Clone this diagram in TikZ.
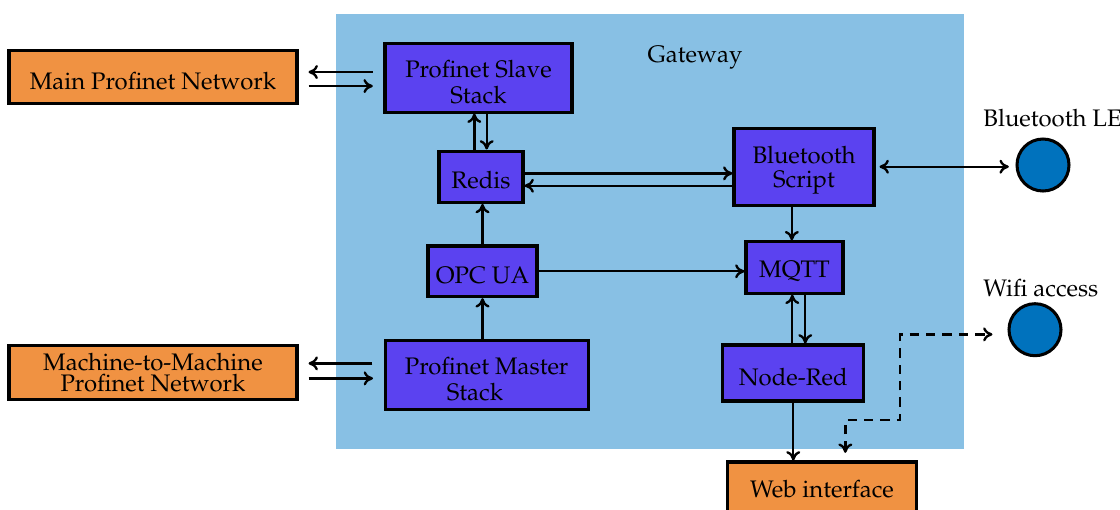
\documentclass[tikz,border=0pt]{standalone}
\usepackage[T1]{fontenc}
\usepackage{mathpazo}
\usepackage{xcolor}
\usepackage{tikz}
\usetikzlibrary{arrows.meta}
\definecolor{gatewayblue}{RGB}{136,192,228}
\definecolor{blockpurple}{RGB}{91,66,240}
\definecolor{netorange}{RGB}{240,146,66}
\definecolor{deviceblue}{RGB}{0,114,189}
\tikzset{
  raised/.style={
    execute at begin node={\rule{0pt}{#1}}
  },
  block/.style={
    draw,
    rectangle,
    fill=blockpurple,
    line width=1.3pt,
    align=center,
    inner sep=1pt,
    raised=10.5pt
  },
  network/.style={
    draw,
    rectangle,
    fill=netorange,
    line width=1.3pt,
    align=center,
    inner sep=1pt
  },
  device/.style={
    draw,
    circle,
    fill=deviceblue,
    line width=1.3pt,
    minimum size=0.78cm,
    inner sep=0pt
  },
  link/.style={
    -{To[length=4pt,width=6pt]},
    line width=1pt
  },
  twoway/.style={
    {To[length=4pt,width=6pt]}-{To[length=4pt,width=6pt]},
    line width=1pt
  }
}

\begin{document}
\begin{tikzpicture}[x=0.015cm, y=-0.015cm, font=\fontsize{10.2}{11.4}\selectfont]
  \useasboundingbox (0,0) rectangle (1120,509);
  \fill[gatewayblue] (336,14) rectangle (964,449);
  \node (gwlabel) at (695,58) {Gateway};

  \node[network, raised=11.5pt, minimum width=4.32cm, minimum height=0.8cm] (main) at (153,76.7) {Main Profinet Network};
  \node[network, minimum width=4.32cm, minimum height=0.82cm] (m2m) at (153,372.5) {Machine-to-Machine\\[-2.4pt]Profinet Network};
  \node[network, raised=8.2pt, minimum width=2.835cm, minimum height=0.78cm] (web) at (822,488) {Web interface};

  \node[block, raised=22.5pt, minimum width=2.805cm, minimum height=1.03cm] (slave) at (478.5,77.7) {Profinet Slave\\Stack};
  \node[block, minimum width=1.26cm, minimum height=0.77cm] (redis) at (481,176.7) {Redis};
  \node[block, raised=20.5pt, minimum width=2.1cm, minimum height=1.15cm] (bt) at (804,166.7) {Bluetooth\\[-1.4pt]Script};
  \node[block, minimum width=1.635cm, minimum height=0.76cm] (opc) at (482.5,271.3) {OPC UA};
  \node[block, minimum width=1.455cm, minimum height=0.77cm] (mqtt) at (794.5,267.5) {MQTT};
  \node[block, raised=22.5pt, minimum width=3.045cm, minimum height=1.04cm] (master) at (486.7,374.7) {Profinet Master\\Stack\hspace*{10pt}};
  \node[block, minimum width=2.115cm, minimum height=0.84cm] (nodered) at (793.3,373) {Node-Red};

  \node[device] (ble) at (1043,165) {};
  \node[device] (wifi) at (1035,329.7) {};
  \node[anchor=west, inner sep=0pt] (blelabel) at (983,118) {Bluetooth LE};
  \node[anchor=west, inner sep=0pt] (wifilabel) at (983,288) {Wifi access};

  % field networks
  \draw[link, shorten <=0.16cm, shorten >=0.15cm] ([yshift=0.085cm]slave.west) -- ([yshift=0.085cm]slave.west -| main.east);
  \draw[link, shorten <=0.15cm, shorten >=0.16cm] ([yshift=-0.125cm]slave.west -| main.east) -- ([yshift=-0.125cm]slave.west);
  \draw[link, shorten <=0.17cm, shorten >=0.15cm] ([yshift=0.17cm]master.west) -- ([yshift=0.17cm]master.west -| m2m.east);
  \draw[link, shorten <=0.15cm, shorten >=0.16cm] ([yshift=-0.055cm]master.west -| m2m.east) -- ([yshift=-0.055cm]master.west);

  % inside the gateway
  \draw[link] ([xshift=-0.1cm]redis.north) -- ([xshift=-0.1cm]redis.north |- slave.south);
  \draw[link] ([xshift=0.085cm]redis.north |- slave.south) -- ([xshift=0.085cm]redis.north);
  \draw[link] ([yshift=0.05cm]redis.east) -- ([yshift=0.05cm]redis.east -| bt.west);
  \draw[link] ([yshift=-0.135cm]redis.east -| bt.west) -- ([yshift=-0.135cm]redis.east);
  \draw[link] (opc.north) -- (opc.north |- redis.south);
  \draw[link] (opc.south |- master.north) -- (opc.south);
  \draw[link] (opc.east) -- (opc.east -| mqtt.west);
  \draw[link] ([xshift=-0.04cm]mqtt.north |- bt.south) -- ([xshift=-0.04cm]mqtt.north);
  \draw[link] ([xshift=-0.015cm]nodered.north) -- ([xshift=-0.015cm]nodered.north |- mqtt.south);
  \draw[link] ([xshift=0.18cm]nodered.north |- mqtt.south) -- ([xshift=0.18cm]nodered.north);
  \draw[link] (nodered.south) -- (nodered.south |- web.north);

  % wireless
  \draw[twoway, shorten <=0.06cm, shorten >=0.1cm] (bt.east) -- (bt.east -| ble.west);
  \draw[twoway, dash pattern=on 4pt off 3pt, shorten <=0.115cm, shorten >=0.225cm]
    ([xshift=0.35cm]web.north) |- (900,420) |- ([yshift=-0.07cm]wifi.west);
\end{tikzpicture}
\end{document}
